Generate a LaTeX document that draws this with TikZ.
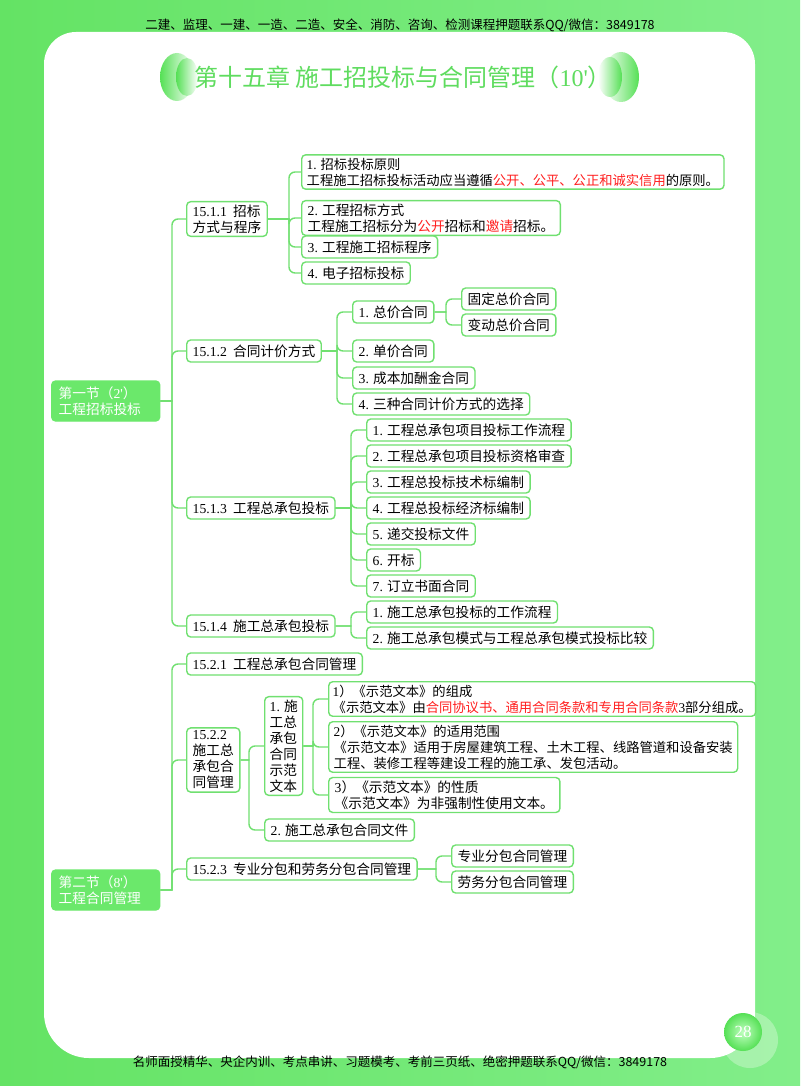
\documentclass[tikz,border=0pt]{standalone}
\usepackage{fontspec}
\setmainfont{Noto Sans CJK SC}
\newfontfamily\lat{Liberation Serif}
\usetikzlibrary{positioning}

\definecolor{bgleft}{HTML}{64E364}
\definecolor{bgright}{HTML}{82EE8A}
\definecolor{linegreen}{HTML}{70E070}
\definecolor{rootgreen}{HTML}{6BE86B}
\definecolor{titlegreen}{HTML}{5FDC5F}
\definecolor{orngreen}{HTML}{55E055}
\definecolor{keyred}{HTML}{FF1F1F}

\newcommand\nm[1]{{\lat #1}}
\newcommand\hl[1]{\textcolor{keyred}{#1}}

\begin{document}
\begin{tikzpicture}[x=1pt, y=-1pt,
  box/.style={draw=linegreen, line width=1.4pt, rounded corners=4pt, fill=white,
    anchor=west, align=left, inner xsep=6pt, inner ysep=3pt, minimum height=22pt,
    font=\fontsize{13.7}{16}\selectfont},
  wide/.style={inner xsep=5pt, font=\fontsize{13.3}{16}\selectfont},
  root/.style={box, draw=rootgreen, fill=rootgreen, text=white, text width=94pt,
    inner xsep=7pt, minimum height=40pt},
  link/.style={draw=linegreen, line width=1.4pt, sharp corners}
]
\useasboundingbox (0,0) rectangle (800,1086);
% page
\shade[left color=bgleft, right color=bgright] (0,0) rectangle (800,1086);
\fill[white, rounded corners=32pt] (44,500) -- (44,32) -- (755,32)
  [rounded corners=45pt] -- (755,1058) -- (44,1058) -- cycle;
\node[font=\fontsize{12.5}{14}\selectfont] (top) at (400,25)
  {二建、监理、一建、一造、二造、安全、消防、咨询、检测课程押题联系QQ/微信：3849178};
\node[font=\fontsize{12.5}{14}\selectfont] (bottom) at (400,1062)
  {名师面授精华、央企内训、考点串讲、习题模考、考前三页纸、绝密押题联系QQ/微信：3849178};

% title
\shade[left color=orngreen, right color=white] (177,77) ellipse (17pt and 24pt);
\shade[left color=orngreen, right color=white] (187,77) ellipse (11pt and 19pt);
\shade[right color=orngreen, left color=white] (621,77) ellipse (18pt and 25pt);
\shade[right color=orngreen, left color=white] (610,77) ellipse (12pt and 20pt);
\node[text=titlegreen, font=\fontsize{24}{28}\selectfont] (title) at (403,77)
  {第十五章 施工招投标与合同管理（\nm{10'}）};

% page number
\fill[white, opacity=0.3] (750,1040) circle (28pt);
\shade[inner color=green!25!white, outer color=orngreen] (743,1032) circle (19pt);
\node[text=white, font=\lat\fontsize{17}{20}\selectfont] (pg) at (743,1032) {28};

% section one
\node[root] (r1) at (51,401) {第一节（\nm{2'}）\\工程招标投标};
\node[box] (s11) at (186,219) {\nm{15.1.1}\ \ 招标\\方式与程序};
\node[box] (s12) at (186,351) {\nm{15.1.2}\ \ 合同计价方式};
\node[box] (s13) at (186,508) {\nm{15.1.3}\ \ 工程总承包投标};
\node[box] (s14) at (186,626) {\nm{15.1.4}\ \ 施工总承包投标};

\node[box, wide] (a1) at (301,172) {\nm{1.} 招标投标原则\\工程施工招标投标活动应当遵循\hl{公开、公平、公正和诚实信用}的原则。};
\node[box] (a2) at (301,218) {\nm{2.} 工程招标方式\\工程施工招标分为\hl{公开}招标和\hl{邀请}招标。};
\node[box] (a3) at (301,247) {\nm{3.} 工程施工招标程序};
\node[box] (a4) at (301,273) {\nm{4.} 电子招标投标};

\node[box] (b1) at (352,312) {\nm{1.} 总价合同};
\node[box] (b2) at (352,351) {\nm{2.} 单价合同};
\node[box] (b3) at (352,378) {\nm{3.} 成本加酬金合同};
\node[box] (b4) at (352,404) {\nm{4.} 三种合同计价方式的选择};
\node[box] (bb1) at (461,299) {固定总价合同};
\node[box] (bb2) at (461,325) {变动总价合同};

\node[box] (c1) at (366,430) {\nm{1.} 工程总承包项目投标工作流程};
\node[box] (c2) at (366,456) {\nm{2.} 工程总承包项目投标资格审查};
\node[box] (c3) at (366,482) {\nm{3.} 工程总投标技术标编制};
\node[box] (c4) at (366,508) {\nm{4.} 工程总投标经济标编制};
\node[box] (c5) at (366,534) {\nm{5.} 递交投标文件};
\node[box] (c6) at (366,560) {\nm{6.} 开标};
\node[box] (c7) at (366,586) {\nm{7.} 订立书面合同};

\node[box] (d1) at (366,612) {\nm{1.} 施工总承包投标的工作流程};
\node[box] (d2) at (366,638) {\nm{2.} 施工总承包模式与工程总承包模式投标比较};

% section two
\node[root] (r2) at (51,890) {第二节（\nm{8'}）\\工程合同管理};
\node[box] (s21) at (186,664) {\nm{15.2.1}\ \ 工程总承包合同管理};
\node[box] (s22) at (186,760) {\nm{15.2.2}\\施工总\\承包合\\同管理};
\node[box] (s23) at (186,869) {\nm{15.2.3}\ \ 专业分包和劳务分包合同管理};

\node[box, inner xsep=5pt] (f1) at (264,746) {\nm{1.} 施\\工总\\承包\\合同\\示范\\文本};
\node[box] (f2) at (264,830) {\nm{2.} 施工总承包合同文件};

\node[box, wide, inner xsep=4pt] (e1) at (328,699) {\nm{1}）《示范文本》的组成\\《示范文本》由\hl{合同协议书、通用合同条款和专用合同条款}\nm{3}部分组成。};
\node[box, wide] (e2) at (328,747) {\nm{2}）《示范文本》的适用范围\\《示范文本》适用于房屋建筑工程、土木工程、线路管道和设备安装\\工程、装修工程等建设工程的施工承、发包活动。};
\node[box] (e3) at (328,795) {\nm{3}）《示范文本》的性质\\《示范文本》为非强制性使用文本。};

\node[box] (g1) at (451,856) {专业分包合同管理};
\node[box] (g2) at (451,882) {劳务分包合同管理};

% trunks
\coordinate (r1t) at (172,0);
\coordinate (s11t) at (289,0);
\coordinate (s12t) at (337,0);
\coordinate (b1t) at (446,0);
\coordinate (s13t) at (351,0);
\coordinate (s14t) at (351,0);
\coordinate (r2t) at (172,0);
\coordinate (s22t) at (249,0);
\coordinate (f1t) at (313,0);
\coordinate (s23t) at (436,0);

% connectors
\foreach \p/\kids in {r1/{s11,s12,s13,s14}, s11/{a1,a2,a3,a4}, s12/{b1,b2,b3,b4},
    b1/{bb1,bb2}, s13/{c1,c2,c3,c4,c5,c6,c7}, s14/{d1,d2}, r2/{s21,s22,s23},
    s22/{f1,f2}, f1/{e1,e2,e3}, s23/{g1,g2}}
  \foreach \k in \kids
    \draw[link] (\p.east) -- (\p.east -| \p t) [rounded corners=6pt]
      -- (\k.west -| \p t) -- (\k.west);
\end{tikzpicture}
\end{document}
